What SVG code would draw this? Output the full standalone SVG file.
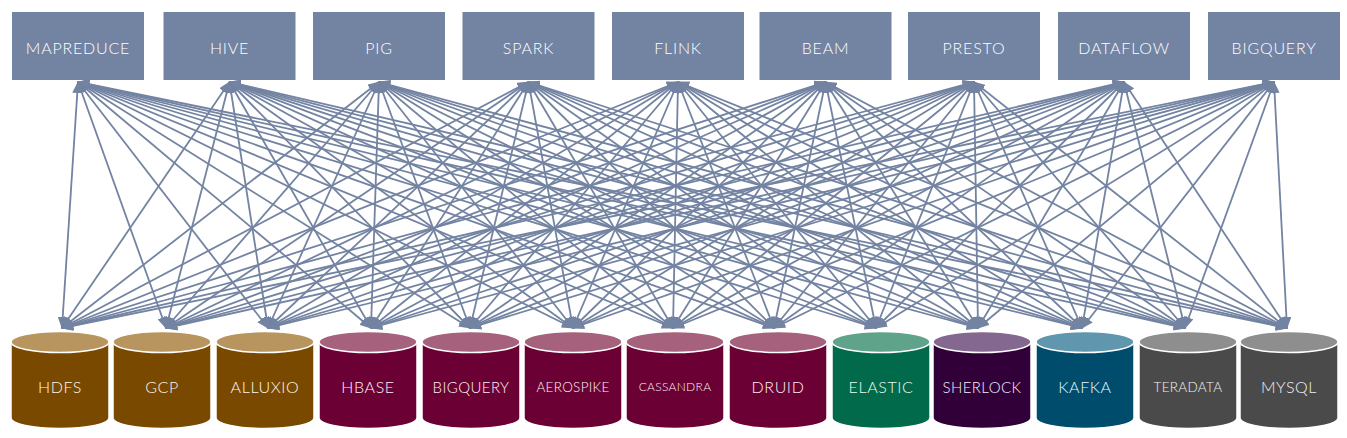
<svg xmlns="http://www.w3.org/2000/svg" width="1347" height="438" viewBox="0 0 1347 438">
<style>
.box{fill:#7383a2}
.bt{font-family:Lato,"Open Sans","Liberation Sans",sans-serif;font-weight:300;font-size:16px;fill:#ffffff;text-anchor:middle;letter-spacing:0.8px}
.ct{font-family:Lato,"Open Sans","Liberation Sans",sans-serif;font-weight:300;font-size:16px;text-anchor:middle;letter-spacing:0.6px}
.md{font-size:15px;letter-spacing:0.4px}
.sm{font-size:13.5px;letter-spacing:0.3px}
.xs{font-size:12px;letter-spacing:0.3px}
.b,.t{stroke:#ffffff;stroke-width:1.5}
.brown .b{fill:#7a4900}.brown .t{fill:#b8955f}.brown text{fill:#fdf7ee}
.maroon .b{fill:#6a0033}.maroon .t{fill:#a6617c}.maroon text{fill:#fdf0f5}
.green .b{fill:#006a4a}.green .t{fill:#5fa38a}.green text{fill:#eefaf5}
.purple .b{fill:#310039}.purple .t{fill:#84688f}.purple text{fill:#f6eefa}
.blue .b{fill:#004c6d}.blue .t{fill:#6096ae}.blue text{fill:#eef7fb}
.gray .b{fill:#4a4a4a}.gray .t{fill:#8e8e8e}.gray text{fill:#f2f2f2}
#connectors line{stroke:#7383a2;stroke-width:1.8;marker-start:url(#ah);marker-end:url(#ah)}
</style>
<defs>
<marker id="ah" markerUnits="userSpaceOnUse" markerWidth="12" markerHeight="10" refX="11" refY="5" orient="auto-start-reverse">
<path d="M0,0 L12,5 L0,10 Z" fill="#7383a2"/>
</marker>
<path id="cb" d="M0,342 V418 A49,10.5 0 0 0 98,418 V342 Z"/>
<ellipse id="ctop" cx="49" cy="342" rx="49" ry="10.5"/>
</defs>
<rect width="1347" height="438" fill="#ffffff"/>

<g id="connectors">
<line x1="78" y1="82" x2="62" y2="328"/><line x1="78" y1="82" x2="166" y2="328"/><line x1="78" y1="82" x2="268" y2="328"/><line x1="78" y1="82" x2="371" y2="328"/><line x1="78" y1="82" x2="470" y2="328"/><line x1="78" y1="82" x2="573" y2="328"/><line x1="78" y1="82" x2="673" y2="328"/><line x1="78" y1="82" x2="774" y2="328"/><line x1="78" y1="82" x2="876" y2="328"/><line x1="78" y1="82" x2="978" y2="328"/><line x1="78" y1="82" x2="1082" y2="328"/><line x1="78" y1="82" x2="1185" y2="328"/><line x1="78" y1="82" x2="1287" y2="328"/>
<line x1="229.5" y1="82" x2="62" y2="328"/><line x1="229.5" y1="82" x2="166" y2="328"/><line x1="229.5" y1="82" x2="268" y2="328"/><line x1="229.5" y1="82" x2="371" y2="328"/><line x1="229.5" y1="82" x2="470" y2="328"/><line x1="229.5" y1="82" x2="573" y2="328"/><line x1="229.5" y1="82" x2="673" y2="328"/><line x1="229.5" y1="82" x2="774" y2="328"/><line x1="229.5" y1="82" x2="876" y2="328"/><line x1="229.5" y1="82" x2="978" y2="328"/><line x1="229.5" y1="82" x2="1082" y2="328"/><line x1="229.5" y1="82" x2="1185" y2="328"/><line x1="229.5" y1="82" x2="1287" y2="328"/>
<line x1="379" y1="82" x2="62" y2="328"/><line x1="379" y1="82" x2="166" y2="328"/><line x1="379" y1="82" x2="268" y2="328"/><line x1="379" y1="82" x2="371" y2="328"/><line x1="379" y1="82" x2="470" y2="328"/><line x1="379" y1="82" x2="573" y2="328"/><line x1="379" y1="82" x2="673" y2="328"/><line x1="379" y1="82" x2="774" y2="328"/><line x1="379" y1="82" x2="876" y2="328"/><line x1="379" y1="82" x2="978" y2="328"/><line x1="379" y1="82" x2="1082" y2="328"/><line x1="379" y1="82" x2="1185" y2="328"/><line x1="379" y1="82" x2="1287" y2="328"/>
<line x1="528.5" y1="82" x2="62" y2="328"/><line x1="528.5" y1="82" x2="166" y2="328"/><line x1="528.5" y1="82" x2="268" y2="328"/><line x1="528.5" y1="82" x2="371" y2="328"/><line x1="528.5" y1="82" x2="470" y2="328"/><line x1="528.5" y1="82" x2="573" y2="328"/><line x1="528.5" y1="82" x2="673" y2="328"/><line x1="528.5" y1="82" x2="774" y2="328"/><line x1="528.5" y1="82" x2="876" y2="328"/><line x1="528.5" y1="82" x2="978" y2="328"/><line x1="528.5" y1="82" x2="1082" y2="328"/><line x1="528.5" y1="82" x2="1185" y2="328"/><line x1="528.5" y1="82" x2="1287" y2="328"/>
<line x1="678" y1="82" x2="62" y2="328"/><line x1="678" y1="82" x2="166" y2="328"/><line x1="678" y1="82" x2="268" y2="328"/><line x1="678" y1="82" x2="371" y2="328"/><line x1="678" y1="82" x2="470" y2="328"/><line x1="678" y1="82" x2="573" y2="328"/><line x1="678" y1="82" x2="673" y2="328"/><line x1="678" y1="82" x2="774" y2="328"/><line x1="678" y1="82" x2="876" y2="328"/><line x1="678" y1="82" x2="978" y2="328"/><line x1="678" y1="82" x2="1082" y2="328"/><line x1="678" y1="82" x2="1185" y2="328"/><line x1="678" y1="82" x2="1287" y2="328"/>
<line x1="825.5" y1="82" x2="62" y2="328"/><line x1="825.5" y1="82" x2="166" y2="328"/><line x1="825.5" y1="82" x2="268" y2="328"/><line x1="825.5" y1="82" x2="371" y2="328"/><line x1="825.5" y1="82" x2="470" y2="328"/><line x1="825.5" y1="82" x2="573" y2="328"/><line x1="825.5" y1="82" x2="673" y2="328"/><line x1="825.5" y1="82" x2="774" y2="328"/><line x1="825.5" y1="82" x2="876" y2="328"/><line x1="825.5" y1="82" x2="978" y2="328"/><line x1="825.5" y1="82" x2="1082" y2="328"/><line x1="825.5" y1="82" x2="1185" y2="328"/><line x1="825.5" y1="82" x2="1287" y2="328"/>
<line x1="974" y1="82" x2="62" y2="328"/><line x1="974" y1="82" x2="166" y2="328"/><line x1="974" y1="82" x2="268" y2="328"/><line x1="974" y1="82" x2="371" y2="328"/><line x1="974" y1="82" x2="470" y2="328"/><line x1="974" y1="82" x2="573" y2="328"/><line x1="974" y1="82" x2="673" y2="328"/><line x1="974" y1="82" x2="774" y2="328"/><line x1="974" y1="82" x2="876" y2="328"/><line x1="974" y1="82" x2="978" y2="328"/><line x1="974" y1="82" x2="1082" y2="328"/><line x1="974" y1="82" x2="1185" y2="328"/><line x1="974" y1="82" x2="1287" y2="328"/>
<line x1="1124" y1="82" x2="62" y2="328"/><line x1="1124" y1="82" x2="166" y2="328"/><line x1="1124" y1="82" x2="268" y2="328"/><line x1="1124" y1="82" x2="371" y2="328"/><line x1="1124" y1="82" x2="470" y2="328"/><line x1="1124" y1="82" x2="573" y2="328"/><line x1="1124" y1="82" x2="673" y2="328"/><line x1="1124" y1="82" x2="774" y2="328"/><line x1="1124" y1="82" x2="876" y2="328"/><line x1="1124" y1="82" x2="978" y2="328"/><line x1="1124" y1="82" x2="1082" y2="328"/><line x1="1124" y1="82" x2="1185" y2="328"/><line x1="1124" y1="82" x2="1287" y2="328"/>
<line x1="1274" y1="82" x2="62" y2="328"/><line x1="1274" y1="82" x2="166" y2="328"/><line x1="1274" y1="82" x2="268" y2="328"/><line x1="1274" y1="82" x2="371" y2="328"/><line x1="1274" y1="82" x2="470" y2="328"/><line x1="1274" y1="82" x2="573" y2="328"/><line x1="1274" y1="82" x2="673" y2="328"/><line x1="1274" y1="82" x2="774" y2="328"/><line x1="1274" y1="82" x2="876" y2="328"/><line x1="1274" y1="82" x2="978" y2="328"/><line x1="1274" y1="82" x2="1082" y2="328"/><line x1="1274" y1="82" x2="1185" y2="328"/><line x1="1274" y1="82" x2="1287" y2="328"/>
</g>

<g id="top-nodes">
<g id="n-mapreduce"><rect class="box" x="12" y="12" width="132" height="68"/><text class="bt" x="78" y="54">MAPREDUCE</text></g>
<g id="n-hive"><rect class="box" x="163.5" y="12" width="132" height="68"/><text class="bt" x="229.5" y="54">HIVE</text></g>
<g id="n-pig"><rect class="box" x="313" y="12" width="132" height="68"/><text class="bt" x="379" y="54">PIG</text></g>
<g id="n-spark"><rect class="box" x="462.5" y="12" width="132" height="68"/><text class="bt" x="528.5" y="54">SPARK</text></g>
<g id="n-flink"><rect class="box" x="612" y="12" width="132" height="68"/><text class="bt" x="678" y="54">FLINK</text></g>
<g id="n-beam"><rect class="box" x="759.5" y="12" width="132" height="68"/><text class="bt" x="825.5" y="54">BEAM</text></g>
<g id="n-presto"><rect class="box" x="908" y="12" width="132" height="68"/><text class="bt" x="974" y="54">PRESTO</text></g>
<g id="n-dataflow"><rect class="box" x="1058" y="12" width="132" height="68"/><text class="bt" x="1124" y="54">DATAFLOW</text></g>
<g id="n-bigquery-top"><rect class="box" x="1208" y="12" width="132" height="68"/><text class="bt" x="1274" y="54">BIGQUERY</text></g>
</g>

<g id="bottom-nodes">
<g id="s-hdfs" class="brown" transform="translate(11,0)"><use href="#cb" class="b"/><use href="#ctop" class="t"/><text class="ct" x="49" y="393">HDFS</text></g>
<g id="s-gcp" class="brown" transform="translate(113,0)"><use href="#cb" class="b"/><use href="#ctop" class="t"/><text class="ct" x="49" y="393">GCP</text></g>
<g id="s-alluxio" class="brown" transform="translate(216,0)"><use href="#cb" class="b"/><use href="#ctop" class="t"/><text class="ct" x="49" y="393">ALLUXIO</text></g>
<g id="s-hbase" class="maroon" transform="translate(319,0)"><use href="#cb" class="b"/><use href="#ctop" class="t"/><text class="ct" x="49" y="393">HBASE</text></g>
<g id="s-bigquery" class="maroon" transform="translate(422,0)"><use href="#cb" class="b"/><use href="#ctop" class="t"/><text class="ct md" x="49" y="393">BIGQUERY</text></g>
<g id="s-aerospike" class="maroon" transform="translate(524,0)"><use href="#cb" class="b"/><use href="#ctop" class="t"/><text class="ct sm" x="49" y="392">AEROSPIKE</text></g>
<g id="s-cassandra" class="maroon" transform="translate(626,0)"><use href="#cb" class="b"/><use href="#ctop" class="t"/><text class="ct xs" x="49" y="391">CASSANDRA</text></g>
<g id="s-druid" class="maroon" transform="translate(729,0)"><use href="#cb" class="b"/><use href="#ctop" class="t"/><text class="ct" x="49" y="393">DRUID</text></g>
<g id="s-elastic" class="green" transform="translate(832,0)"><use href="#cb" class="b"/><use href="#ctop" class="t"/><text class="ct" x="49" y="393">ELASTIC</text></g>
<g id="s-sherlock" class="purple" transform="translate(933,0)"><use href="#cb" class="b"/><use href="#ctop" class="t"/><text class="ct md" x="49" y="393">SHERLOCK</text></g>
<g id="s-kafka" class="blue" transform="translate(1036,0)"><use href="#cb" class="b"/><use href="#ctop" class="t"/><text class="ct" x="49" y="393">KAFKA</text></g>
<g id="s-teradata" class="gray" transform="translate(1139,0)"><use href="#cb" class="b"/><use href="#ctop" class="t"/><text class="ct sm" x="49" y="392">TERADATA</text></g>
<g id="s-mysql" class="gray" transform="translate(1240,0)"><use href="#cb" class="b"/><use href="#ctop" class="t"/><text class="ct" x="49" y="393">MYSQL</text></g>
</g>
</svg>
